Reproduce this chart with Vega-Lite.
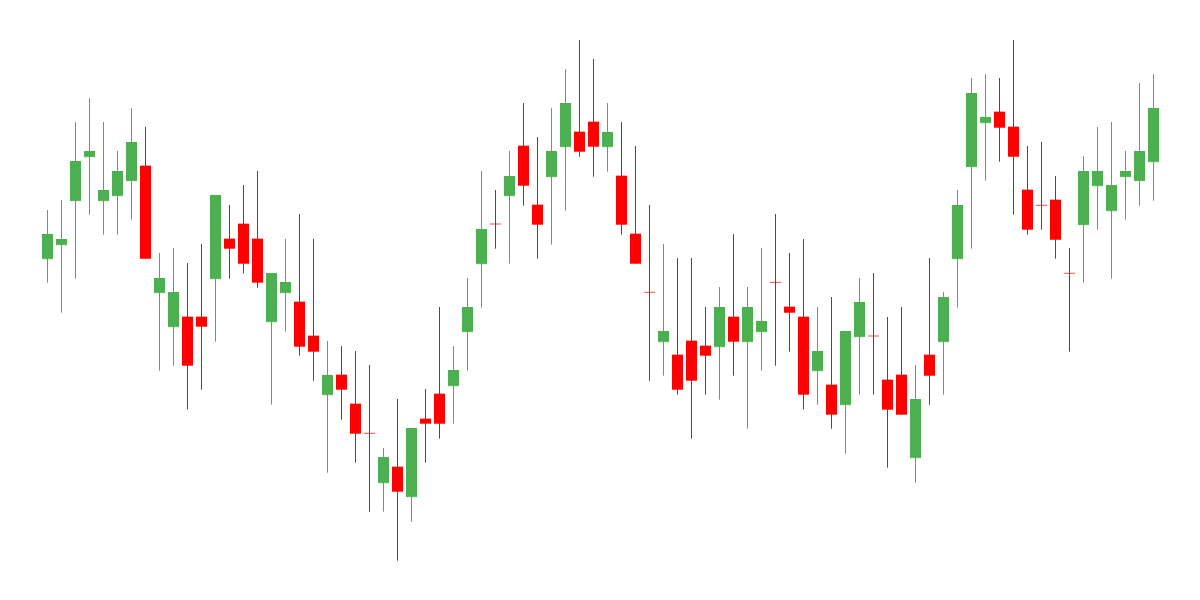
{
  "$schema": "https://vega.github.io/schema/vega-lite/v6.json",
  "width": 1200,
  "height": 600,
  "padding": 0,
  "autosize": {"type": "fit", "contains": "padding"},
  "background": "white",
  "config": {"view": {"stroke": null}},
  "data": {"values": [
    {"i":0,"open":34.13,"high":39.0,"low":31.73,"close":36.6},
    {"i":1,"open":35.53,"high":40.0,"low":28.73,"close":36.1},
    {"i":2,"open":39.93,"high":47.8,"low":32.13,"close":43.9},
    {"i":3,"open":44.33,"high":50.2,"low":38.53,"close":44.9},
    {"i":4,"open":39.93,"high":47.8,"low":36.53,"close":41.0},
    {"i":5,"open":40.43,"high":44.9,"low":36.53,"close":42.9},
    {"i":6,"open":41.93,"high":49.2,"low":38.03,"close":45.8},
    {"i":7,"open":43.4,"high":47.3,"low":34.13,"close":34.13},
    {"i":8,"open":30.73,"high":34.7,"low":22.93,"close":32.2},
    {"i":9,"open":27.33,"high":35.2,"low":23.43,"close":30.8},
    {"i":10,"open":28.3,"high":33.7,"low":19.03,"close":23.43},
    {"i":11,"open":28.3,"high":35.6,"low":21.03,"close":27.33},
    {"i":12,"open":32.13,"high":40.5,"low":25.83,"close":40.5},
    {"i":13,"open":36.1,"high":39.5,"low":32.13,"close":35.13},
    {"i":14,"open":37.6,"high":41.5,"low":32.63,"close":33.63},
    {"i":15,"open":36.1,"high":42.9,"low":31.23,"close":31.73},
    {"i":16,"open":27.83,"high":32.7,"low":19.53,"close":32.7},
    {"i":17,"open":30.73,"high":36.1,"low":26.83,"close":31.8},
    {"i":18,"open":29.8,"high":38.6,"low":24.43,"close":25.33},
    {"i":19,"open":26.4,"high":36.1,"low":21.93,"close":24.83},
    {"i":20,"open":20.53,"high":25.9,"low":12.73,"close":22.5},
    {"i":21,"open":22.5,"high":25.4,"low":18.03,"close":21.03},
    {"i":22,"open":19.6,"high":24.9,"low":13.73,"close":16.63},
    {"i":23,"open":16.67,"high":23.5,"low":8.83,"close":16.67},
    {"i":24,"open":11.73,"high":15.2,"low":8.83,"close":14.3},
    {"i":25,"open":13.3,"high":20.1,"low":3.93,"close":10.83},
    {"i":26,"open":10.33,"high":17.2,"low":7.83,"close":17.2},
    {"i":27,"open":18.1,"high":21.1,"low":13.73,"close":17.63},
    {"i":28,"open":20.6,"high":29.3,"low":16.13,"close":17.63},
    {"i":29,"open":21.43,"high":25.4,"low":17.63,"close":23.0},
    {"i":30,"open":26.83,"high":32.2,"low":22.93,"close":29.3},
    {"i":31,"open":33.63,"high":42.9,"low":29.23,"close":37.1},
    {"i":32,"open":37.6,"high":41.0,"low":35.13,"close":37.6},
    {"i":33,"open":40.43,"high":44.9,"low":33.63,"close":42.4},
    {"i":34,"open":45.4,"high":49.7,"low":39.43,"close":41.43},
    {"i":35,"open":39.5,"high":46.3,"low":34.13,"close":37.53},
    {"i":36,"open":42.33,"high":49.2,"low":35.53,"close":44.9},
    {"i":37,"open":45.33,"high":53.1,"low":38.93,"close":49.7},
    {"i":38,"open":46.8,"high":56.0,"low":44.33,"close":44.83},
    {"i":39,"open":47.8,"high":54.1,"low":42.33,"close":45.33},
    {"i":40,"open":45.33,"high":49.7,"low":42.83,"close":46.8},
    {"i":41,"open":42.4,"high":47.8,"low":36.53,"close":37.53},
    {"i":42,"open":36.6,"high":45.4,"low":33.63,"close":33.63},
    {"i":43,"open":30.77,"high":39.5,"low":21.93,"close":30.77},
    {"i":44,"open":25.83,"high":35.6,"low":22.43,"close":26.9},
    {"i":45,"open":24.5,"high":34.2,"low":20.53,"close":21.03},
    {"i":46,"open":25.9,"high":34.2,"low":16.13,"close":21.93},
    {"i":47,"open":25.4,"high":29.3,"low":20.53,"close":24.43},
    {"i":48,"open":25.33,"high":31.3,"low":20.03,"close":29.3},
    {"i":49,"open":28.3,"high":36.6,"low":22.43,"close":25.83},
    {"i":50,"open":25.83,"high":31.3,"low":17.13,"close":29.3},
    {"i":51,"open":26.83,"high":35.2,"low":22.93,"close":27.9},
    {"i":52,"open":31.77,"high":38.6,"low":23.43,"close":31.77},
    {"i":53,"open":29.3,"high":34.7,"low":24.83,"close":28.73},
    {"i":54,"open":28.3,"high":36.1,"low":19.03,"close":20.53},
    {"i":55,"open":22.93,"high":29.3,"low":19.53,"close":24.9},
    {"i":56,"open":21.5,"high":30.3,"low":17.13,"close":18.53},
    {"i":57,"open":19.53,"high":26.9,"low":14.63,"close":26.9},
    {"i":58,"open":26.33,"high":32.2,"low":20.53,"close":29.8},
    {"i":59,"open":26.4,"high":32.7,"low":20.53,"close":26.4},
    {"i":60,"open":22.0,"high":28.3,"low":13.23,"close":19.03},
    {"i":61,"open":22.5,"high":29.3,"low":18.53,"close":18.53},
    {"i":62,"open":14.23,"high":23.5,"low":11.73,"close":20.1},
    {"i":63,"open":24.5,"high":34.2,"low":19.53,"close":22.43},
    {"i":64,"open":25.83,"high":30.8,"low":20.53,"close":30.3},
    {"i":65,"open":34.13,"high":41.0,"low":29.23,"close":39.5},
    {"i":66,"open":43.33,"high":52.2,"low":35.13,"close":50.7},
    {"i":67,"open":47.73,"high":52.6,"low":41.93,"close":48.3},
    {"i":68,"open":48.8,"high":52.2,"low":43.83,"close":47.23},
    {"i":69,"open":47.3,"high":56.0,"low":38.53,"close":44.33},
    {"i":70,"open":41.0,"high":45.4,"low":36.53,"close":37.03},
    {"i":71,"open":39.47,"high":45.8,"low":37.03,"close":39.47},
    {"i":72,"open":40.0,"high":42.4,"low":34.13,"close":36.03},
    {"i":73,"open":32.67,"high":35.2,"low":24.83,"close":32.67},
    {"i":74,"open":37.53,"high":44.4,"low":31.73,"close":42.9},
    {"i":75,"open":41.43,"high":47.3,"low":37.03,"close":42.9},
    {"i":76,"open":38.93,"high":47.8,"low":32.13,"close":41.5},
    {"i":77,"open":42.33,"high":44.9,"low":38.03,"close":42.9},
    {"i":78,"open":41.93,"high":51.7,"low":39.43,"close":44.9},
    {"i":79,"open":43.83,"high":52.6,"low":39.93,"close":49.2}
  ]},
  "encoding": {
    "x": {"field": "i", "type": "quantitative", "axis": null, "scale": {"domain": [-3.392857, 82.321429], "nice": false, "zero": false, "padding": 0}},
    "color": {"condition": {"test": "datum.close > datum.open", "value": "#4caf50"}, "value": "#ff0000"}
  },
  "layer": [
    {
      "mark": {"type": "rule", "strokeWidth": 1},
      "encoding": {
        "y": {"field": "low", "type": "quantitative", "axis": null, "scale": {"domain": [0, 60], "nice": false, "zero": false, "padding": 0}},
        "y2": {"field": "high"}
      }
    },
    {
      "mark": {"type": "bar", "size": 11},
      "encoding": {
        "y": {"field": "open", "type": "quantitative", "axis": null},
        "y2": {"field": "close"}
      }
    },
    {
      "mark": {"type": "tick", "orient": "horizontal", "size": 11, "thickness": 1},
      "encoding": {
        "y": {"field": "open", "type": "quantitative", "axis": null}
      }
    }
  ]
}
